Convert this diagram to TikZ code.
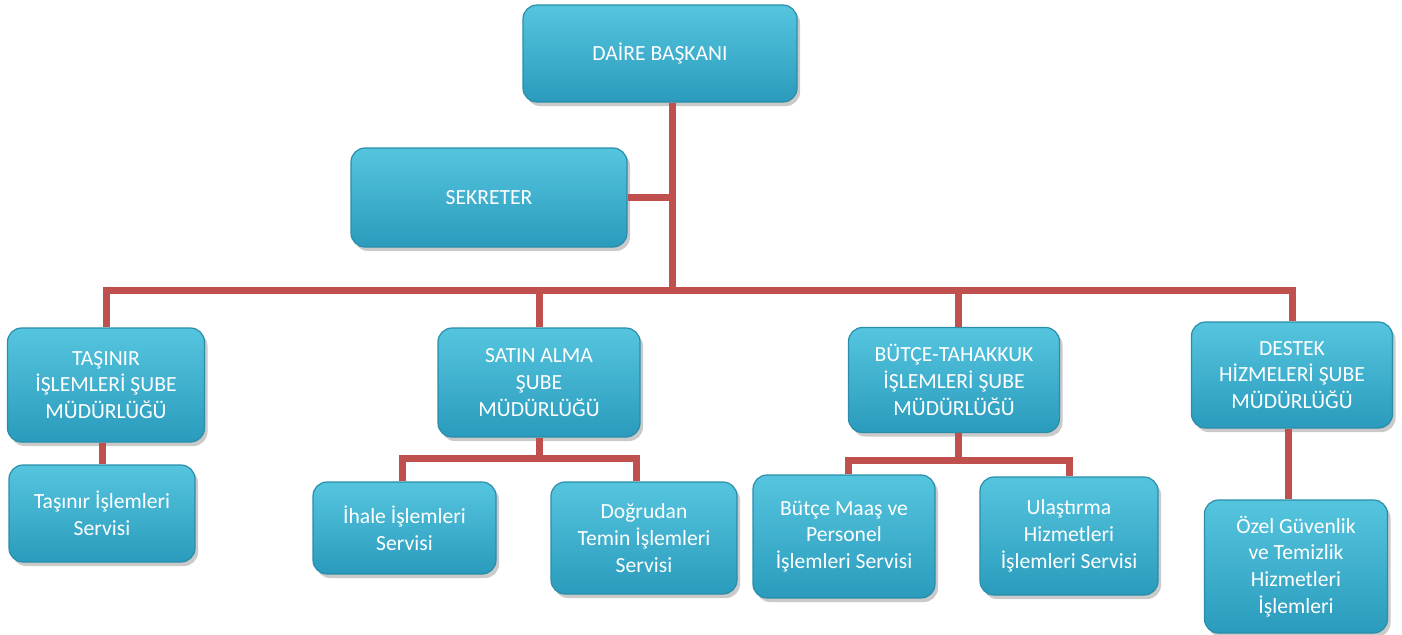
\documentclass[tikz,border=0pt]{standalone}
\usepackage{fontspec}
\setmainfont{Carlito}
\usetikzlibrary{shadows}
\definecolor{boxtop}{HTML}{55C5DF}
\definecolor{boxbot}{HTML}{2A9BBC}
\definecolor{boxline}{HTML}{2A8DAA}
\definecolor{connred}{HTML}{C0504D}
\tikzset{
  orgbox/.style={rectangle, rounded corners=7pt, top color=boxtop, bottom color=boxbot,
    draw=boxline, line width=0.6pt, text=white, align=center, inner sep=2pt,
    font=\fontsize{10.8}{13.4}\selectfont,
    drop shadow={shadow xshift=1.5pt, shadow yshift=-2pt, opacity=0.35, fill=black!60}},
  conn/.style={draw=connred, line width=3.5pt, line cap=butt, line join=miter}
}
\begin{document}
\begin{tikzpicture}[x=0.5pt, y=-0.5pt]
\useasboundingbox (0,0) rectangle (1402,634);
\coordinate (j) at (672,290);
\coordinate (sa) at (539,458);
\coordinate (bt) at (958,460);
% boxes
\node[orgbox, minimum width=137pt, minimum height=48.5pt] (daire) at (660,53.5) {DAİRE BAŞKANI};
\node[orgbox, minimum width=138pt, minimum height=49.5pt] (sek) at (489,197.5) {SEKRETER};
\node[orgbox, minimum width=98.5pt, minimum height=57pt] (tas) at (106,385) {TAŞINIR\\İŞLEMLERİ ŞUBE\\MÜDÜRLÜĞÜ};
\node[orgbox, minimum width=101pt, minimum height=54.5pt] (satin) at (539,382.5) {SATIN ALMA\\ŞUBE\\MÜDÜRLÜĞÜ};
\node[orgbox, minimum width=105.5pt, minimum height=52.5pt] (butce) at (954,380) {BÜTÇE-TAHAKKUK\\İŞLEMLERİ ŞUBE\\MÜDÜRLÜĞÜ};
\node[orgbox, minimum width=100.5pt, minimum height=53pt] (destek) at (1292,375) {DESTEK\\HİZMELERİ ŞUBE\\MÜDÜRLÜĞÜ};
\node[orgbox, minimum width=93pt, minimum height=48.5pt] (tasserv) at (102,513.5) {Taşınır İşlemleri\\Servisi};
\node[orgbox, minimum width=91.5pt, minimum height=46pt] (ihale) at (404.5,528) {İhale İşlemleri\\Servisi};
\node[orgbox, minimum width=93pt, minimum height=56pt] (dog) at (644,538) {Doğrudan\\Temin İşlemleri\\Servisi};
\node[orgbox, minimum width=91pt, minimum height=61.5pt] (maas) at (844,536.5) {Bütçe Maaş ve\\Personel\\İşlemleri Servisi};
\node[orgbox, minimum width=89pt, minimum height=59pt] (ulas) at (1069,536) {Ulaştırma\\Hizmetleri\\İşlemleri Servisi};
\node[orgbox, minimum width=91.5pt, minimum height=66.5pt] (ozel) at (1296,566.5) {Özel Güvenlik\\ve Temizlik\\Hizmetleri\\İşlemleri};
% connectors
\draw[conn] (j |- daire.south) -- (j);
\draw[conn] (sek.east) -- (sek.east -| j);
\draw[conn] (tas.north) |- (j) -| (destek.north);
\draw[conn] (satin.north) -- (satin.north |- j);
\draw[conn] (butce.north -| bt) -- (bt |- j);
\draw[conn] ([xshift=-2pt]tas.south) -- ([xshift=-2pt]tas.south |- tasserv.north);
\draw[conn] (satin.south) -- (sa);
\draw[conn] (ihale.north -| 402,0) |- (sa) -| ([xshift=-4pt]dog.north);
\draw[conn] (butce.south -| bt) -- (bt);
\draw[conn] (maas.north -| 848,0) |- (bt) -| (ulas.north);
\draw[conn] ([xshift=-2pt]destek.south) -- ([xshift=-2pt]destek.south |- ozel.north);
\end{tikzpicture}
\end{document}
